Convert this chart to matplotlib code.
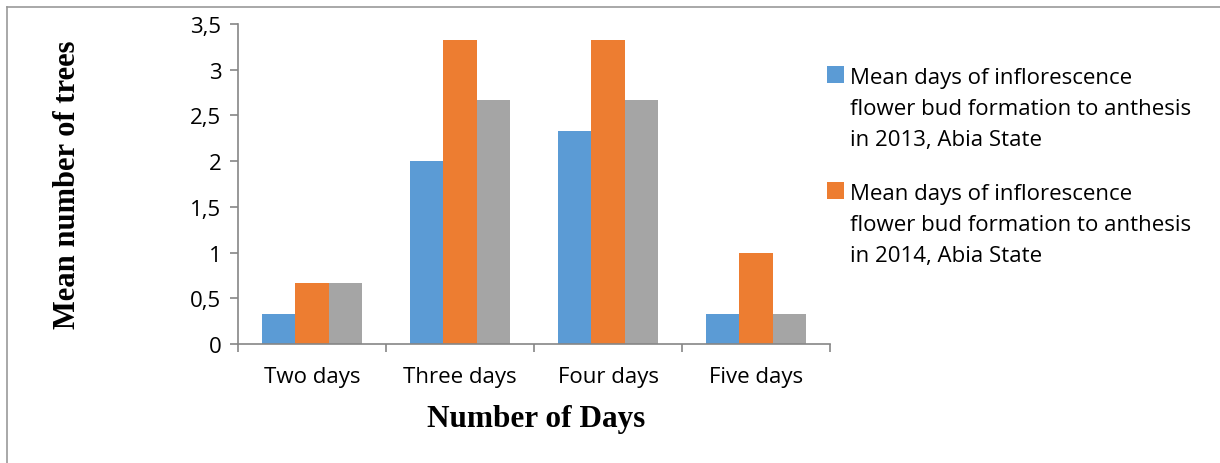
import numpy as np
import matplotlib.pyplot as plt
from matplotlib.patches import Rectangle
from matplotlib.ticker import FuncFormatter, FixedLocator

# mean number of trees per flowering duration class
categories = ['Two days', 'Three days', 'Four days', 'Five days']
vals_2013 = [0.33, 2.0, 2.33, 0.33]
vals_2014 = [0.67, 3.33, 3.33, 1.0]
vals_third = [0.67, 2.67, 2.67, 0.33]
labels = ['Mean days of inflorescence\nflower bud formation to anthesis\nin 2013, Abia State',
          'Mean days of inflorescence\nflower bud formation to anthesis\nin 2014, Abia State']
colors = ['#5B9BD5', '#ED7D31', '#A5A5A5']
axis_col = '#868686'
tick_font = 'Open Sans'

W, H = 1220, 464
fig = plt.figure(figsize=(W / 100, H / 100), dpi=100)
ax = fig.add_axes([238 / W, 1 - 345 / H, (830 - 238) / W, 320 / H])

x = np.arange(len(categories))
w = 0.225
ax.bar(x - w, vals_2013, w, color=colors[0])
ax.bar(x, vals_2014, w, color=colors[1])
ax.bar(x + w, vals_third, w, color=colors[2])

ax.set_xlim(-0.5, 3.5)
ax.set_ylim(0, 3.5)
ax.set_yticks(np.arange(0, 3.51, 0.5))
ax.yaxis.set_major_formatter(FuncFormatter(lambda v, p: ('%g' % v).replace('.', ',')))
ax.set_xticks(x)
ax.set_xticklabels(categories)
ax.xaxis.set_minor_locator(FixedLocator(np.arange(-0.5, 3.6, 1)))

for lab in ax.get_xticklabels() + ax.get_yticklabels():
    lab.set_fontfamily(tick_font)
    lab.set_fontsize(16)

ax.tick_params(axis='x', which='major', length=0, pad=16)
ax.tick_params(axis='x', which='minor', length=6, color=axis_col, width=1.2)
ax.tick_params(axis='y', length=6, color=axis_col, width=1.2, pad=6)

for s in ['top', 'right']:
    ax.spines[s].set_visible(False)
for s in ['left', 'bottom']:
    ax.spines[s].set_color(axis_col)
    ax.spines[s].set_linewidth(1.2)

fig.text(536 / W, 1 - 419 / H, 'Number of Days', ha='center', va='center',
         fontfamily='Liberation Serif', fontweight='bold', fontsize=22.5)
fig.text(68 / W, 1 - 185 / H, 'Mean number of trees', rotation=90, ha='center', va='center',
         fontfamily='Liberation Serif', fontweight='bold', fontsize=22)

# legend for the first two series, drawn by hand
for i, top in enumerate([77, 193]):
    fig.add_artist(Rectangle((827 / W, 1 - (top + 7) / H), 17 / W, 17 / H,
                             transform=fig.transFigure, color=colors[i], lw=0))
    fig.text(850 / W, 1 - (top - 9) / H, labels[i], ha='left', va='top',
             fontfamily=tick_font, fontsize=16, linespacing=1.62)

# outer frame lines (left and top)
fig.add_artist(plt.Line2D([7 / W, 7 / W], [0, 1 - 8 / H], transform=fig.transFigure,
                          color='#999999', lw=1.2))
fig.add_artist(plt.Line2D([7 / W, 1], [1 - 8 / H, 1 - 8 / H], transform=fig.transFigure,
                          color='#999999', lw=1.2))

fig.savefig('out.png', dpi=100)
